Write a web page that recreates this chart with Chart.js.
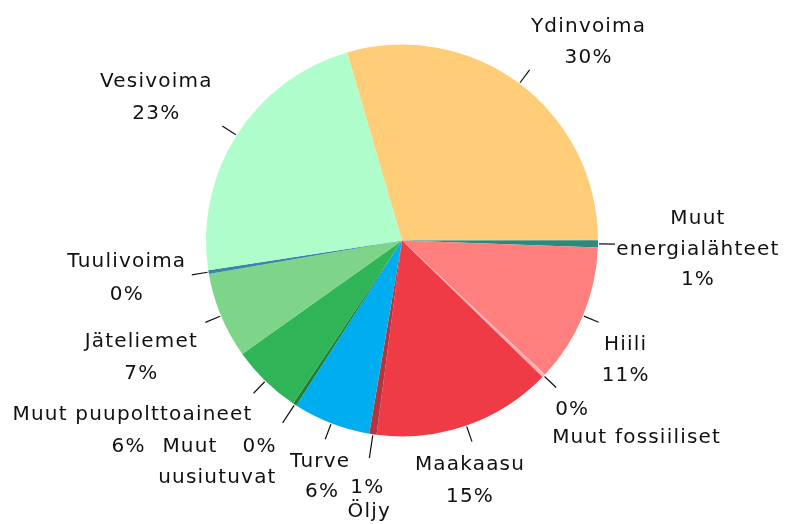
<!DOCTYPE html>
<html>
<head>
<meta charset="utf-8">
<script src="https://cdn.jsdelivr.net/npm/chart.js@4"></script>
<style>
  html, body { margin: 0; padding: 0; background: #fff; }
  canvas { display: block; }
</style>
</head>
<body>
<canvas id="pie" width="797" height="524"></canvas>
<script>
// energialähteet, osuudet (%)
const categories = ['Ydinvoima', 'Muut energialähteet', 'Hiili', 'Muut fossiiliset', 'Maakaasu', 'Öljy',
  'Turve', 'Muut uusiutuvat', 'Muut puupolttoaineet', 'Jäteliemet', 'Tuulivoima', 'Vesivoima'];
const shares = [29.5, 0.6, 11.4, 0.3, 14.8, 0.6, 6.4, 0.3, 5.8, 7.1, 0.3, 22.9];
const sliceColors = ['#FFCC77', '#2A8A7E', '#FF7F7F', '#FFB0B0', '#EE3B46', '#B5343E',
  '#00AEEF', '#1E7F35', '#2FB457', '#7ED488', '#3A88A8', '#AFFDCA'];

// label placement relative to the end of each leader tick
// lines: [text, dx, dy, align]  text: 'n' name, 'p' percent, 'n0' first word, 'n1' rest
const labelLayout = [
  { tick: 17, lines: [['n', 59, -38, 'center'], ['p', 59, -7, 'center']] },
  { tick: 17, lines: [['n0', 83, -20, 'center'], ['n1', 83, 11, 'center'], ['p', 83, 41, 'center']] },
  { tick: 17, lines: [['n', 27, 28, 'center'], ['p', 27, 59, 'center']] },
  { tick: 17, lines: [['p', -1, 28, 'left'], ['n', -4, 56, 'left']] },
  { tick: 17, lines: [['n', -2, 28, 'center'], ['p', -2, 60, 'center']] },
  { tick: 24, lines: [['p', -2, 35, 'center'], ['n', 0, 59, 'center']] },
  { tick: 17, lines: [['n', -5, 28, 'center'], ['p', -3, 58, 'center']] },
  { tick: 22, lines: [['n0', -65, 29, 'right'], ['p', -6, 29, 'right'], ['n1', -6, 60, 'right']] },
  { tick: 17, lines: [['n', -121, 27, 'center'], ['p', -125, 59, 'center']] },
  { tick: 17, lines: [['n', -64, 25, 'center'], ['p', -64, 57, 'center']] },
  { tick: 17, lines: [['n', -65, -8, 'center'], ['p', -65, 25, 'center']] },
  { tick: 17, lines: [['n', -66, -39, 'center'], ['p', -66, -7, 'center']] }
];

const total = shares.reduce((a, b) => a + b, 0);

const pieLabels = {
  id: 'pieLabels',
  afterDatasetsDraw(chart) {
    const ctx = chart.ctx;
    const meta = chart.getDatasetMeta(0);
    ctx.save();
    ctx.font = '20px "DejaVu Sans"';
    ctx.letterSpacing = '1.2px';
    ctx.fillStyle = '#111';
    ctx.strokeStyle = '#111';
    ctx.lineWidth = 1.2;
    ctx.textBaseline = 'alphabetic';
    meta.data.forEach((arc, i) => {
      const p = arc.getProps(['x', 'y', 'startAngle', 'endAngle', 'outerRadius'], true);
      const mid = (p.startAngle + p.endAngle) / 2;
      const lay = labelLayout[i];
      const r0 = p.outerRadius + 1, r1 = p.outerRadius + lay.tick;
      const ex = p.x + Math.cos(mid) * r1, ey = p.y + Math.sin(mid) * r1;
      ctx.beginPath();
      ctx.moveTo(p.x + Math.cos(mid) * r0, p.y + Math.sin(mid) * r0);
      ctx.lineTo(ex, ey);
      ctx.stroke();

      const name = categories[i];
      const sp = name.indexOf(' ');
      const texts = {
        n: name,
        p: Math.round(shares[i] / total * 100) + '%',
        n0: sp > 0 ? name.slice(0, sp) : name,
        n1: sp > 0 ? name.slice(sp + 1) : ''
      };
      lay.lines.forEach(([key, dx, dy, align]) => {
        ctx.textAlign = align;
        ctx.fillText(texts[key], ex + dx, ey + dy);
      });
    });
    ctx.restore();
  }
};

new Chart(document.getElementById('pie'), {
  type: 'pie',
  data: {
    labels: categories,
    datasets: [{
      data: shares,
      backgroundColor: sliceColors,
      borderWidth: 0,
      hoverOffset: 0
    }]
  },
  options: {
    responsive: false,
    animation: false,
    rotation: -16.3,
    layout: { padding: { left: 206, right: 199, top: 44, bottom: 87 } },
    plugins: {
      legend: { display: false },
      tooltip: { enabled: false }
    }
  },
  plugins: [pieLabels]
});
</script>
</body>
</html>
